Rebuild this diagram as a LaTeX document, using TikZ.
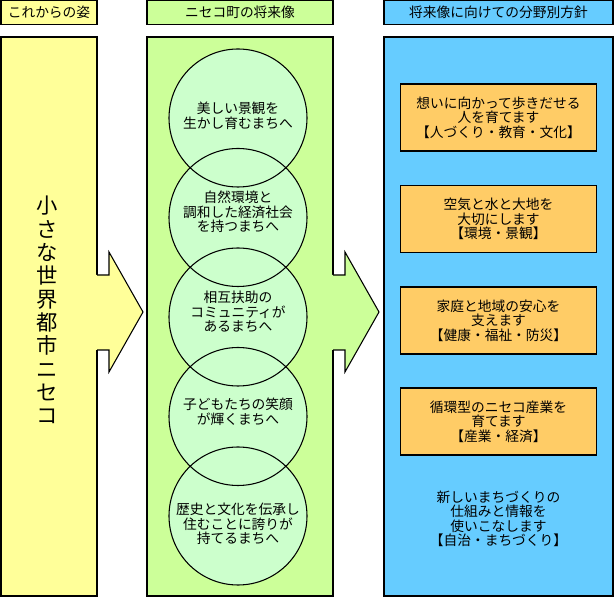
\documentclass[tikz,border=0pt]{standalone}
\usepackage{fontspec}
\setmainfont{Noto Sans CJK JP}
\usetikzlibrary{calc}
\definecolor{nowyellow}{HTML}{FFFF99}
\definecolor{futuregreen}{HTML}{CCFF99}
\definecolor{circlegreen}{HTML}{CCFFCC}
\definecolor{policyblue}{HTML}{66CCFF}
\definecolor{policyorange}{HTML}{FFCC66}
\tikzset{
	panel/.style={draw=black, line width=1pt},
	headbox/.style={draw=black, line width=1pt, inner sep=0pt, outer sep=0pt, minimum height=18pt, font=\fontsize{10.3}{11}\selectfont},
	policybox/.style={draw=black, line width=1pt, fill=policyorange, inner sep=0pt, outer sep=0pt, minimum width=147pt, minimum height=50.25pt, align=center, font=\fontsize{10.3}{10.9}\selectfont},
	bodytext/.style={align=center, inner sep=0pt, font=\fontsize{10.3}{10.9}\selectfont},
	ring/.style={line width=0.8pt},
	blockarrow/.style={line width=0.8pt, line join=miter}
}

\begin{document}
\begin{tikzpicture}[x=0.75pt, y=-0.75pt]
		%%%%% START %%%%%
		\useasboundingbox (0, 0) rectangle (615, 598);
		
		% headers
		\node[headbox, fill=nowyellow, minimum width=72pt] (headnow) at (49, 12.5) {これからの姿};
		\node[headbox, fill=futuregreen, minimum width=139.5pt] (headfuture) at (240, 12.5) {ニセコ町の将来像};
		\node[headbox, fill=policyblue, minimum width=171.75pt] (headpolicy) at (498.5, 12.5) {将来像に向けての分野別方針};
		
		% panels
		\draw[panel, fill=nowyellow] (1, 37) rectangle (97, 596);
		\draw[panel, fill=futuregreen] (147, 37) rectangle (333, 596);
		\draw[panel, fill=policyblue] (384, 37) rectangle (613, 596);
		
		% arrows
		\fill[nowyellow] (95, 275) -- (109, 275) -- (109, 252) -- (143, 312) -- (109, 372) -- (109, 350) -- (95, 350) -- cycle;
		\draw[blockarrow] (97, 275) -- (109, 275) -- (109, 252) -- (143, 312) -- (109, 372) -- (109, 350) -- (97, 350);
		\fill[futuregreen] (331, 275) -- (345, 275) -- (345, 252) -- (379, 312) -- (345, 372) -- (345, 350) -- (331, 350) -- cycle;
		\draw[blockarrow] (333, 275) -- (345, 275) -- (345, 252) -- (379, 312) -- (345, 372) -- (345, 350) -- (333, 350);
		
		\node[inner sep=0pt, align=center, font=\fontsize{16}{17.5}\selectfont] (vision) at (47, 310) {小\\さ\\な\\世\\界\\都\\市\\ニ\\セ\\コ};
		
		% circles
		\fill[circlegreen] (238, 118) circle (51.75pt);
		\fill[circlegreen] (238, 217.5) circle (51.75pt);
		\fill[circlegreen] (238, 317) circle (51.75pt);
		\fill[circlegreen] (238, 416.5) circle (51.75pt);
		\fill[circlegreen] (238, 516) circle (51.75pt);
		\draw[ring] (238, 118) circle (51.75pt);
		\draw[ring] (238, 217.5) circle (51.75pt);
		\draw[ring] (238, 317) circle (51.75pt);
		\draw[ring] (238, 416.5) circle (51.75pt);
		\draw[ring] (238, 516) circle (51.75pt);
		
		\node[bodytext] (ideal1) at (238, 116) {美しい景観を\\生かし育むまちへ};
		\node[bodytext] (ideal2) at (238, 212) {自然環境と\\調和した経済社会\\を持つまちへ};
		\node[bodytext] (ideal3) at (238, 312) {相互扶助の\\コミュニティが\\あるまちへ};
		\node[bodytext] (ideal4) at (238, 412) {子どもたちの笑顔\\が輝くまちへ};
		\node[bodytext] (ideal5) at (238, 524) {歴史と文化を伝承し\\住むことに誇りが\\持てるまちへ};
		
		% policies
		\node[policybox] (policy1) at (498.5, 117.5) {想いに向かって歩きだせる\\人を育てます\\【人づくり・教育・文化】};
		\node[policybox] (policy2) at (498.5, 219) {空気と水と大地を\\大切にします\\【環境・景観】};
		\node[policybox] (policy3) at (498.5, 320.5) {家庭と地域の安心を\\支えます\\【健康・福祉・防災】};
		\node[policybox] (policy4) at (498.5, 421.5) {循環型のニセコ産業を\\育てます\\【産業・経済】};
		\node[bodytext] (policy5) at (498.5, 519) {新しいまちづくりの\\仕組みと情報を\\使いこなします\\【自治・まちづくり】};
		
		%%%%% END %%%%%
	\end{tikzpicture}
\end{document}
